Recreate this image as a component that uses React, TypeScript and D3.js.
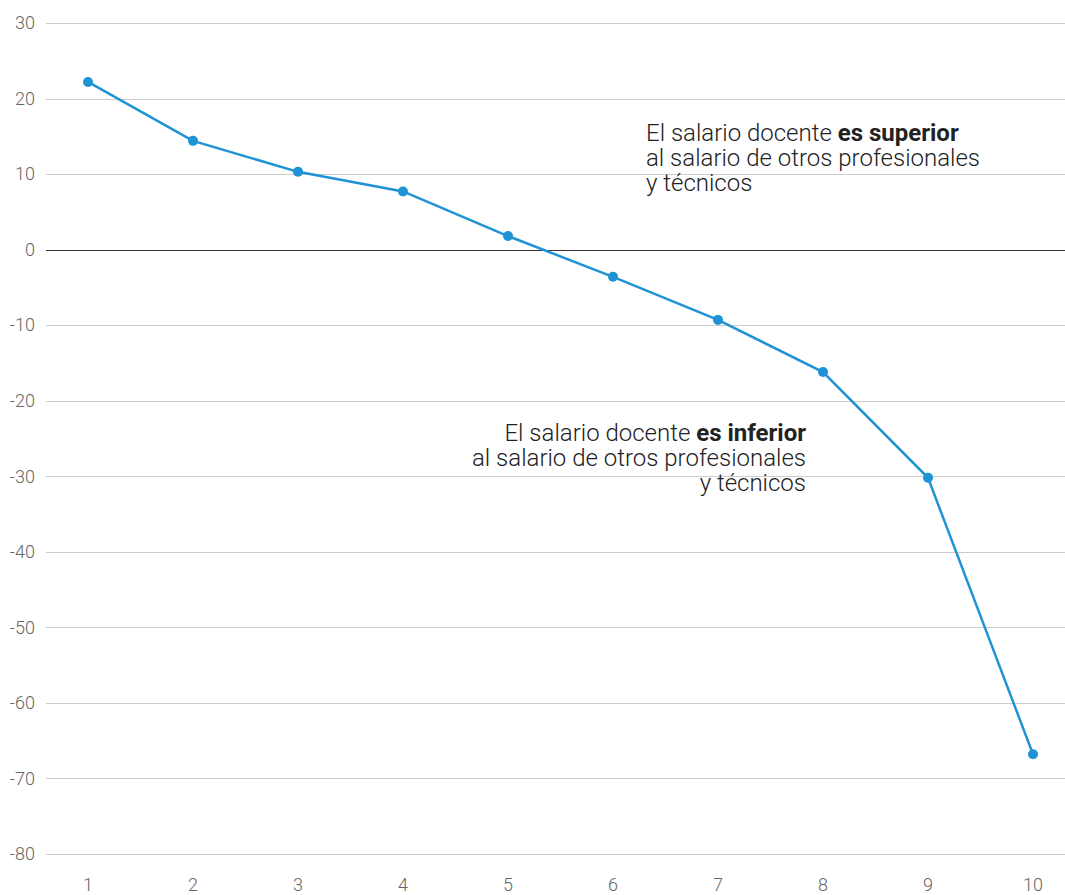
import * as d3 from 'd3';
import { useEffect, useRef } from 'react';

const categories = [1, 2, 3, 4, 5, 6, 7, 8, 9, 10];
const values = [22.2, 14.4, 10.3, 7.7, 1.8, -3.6, -9.3, -16.2, -30.2, -66.8];
const yTicks = [30, 20, 10, 0, -10, -20, -30, -40, -50, -60, -70, -80];

const noteAbove = ['El salario docente ', 'es superior', 'al salario de otros profesionales', 'y técnicos'];
const noteBelow = ['El salario docente ', 'es inferior', 'al salario de otros profesionales', 'y técnicos'];

export default function App() {
    const ref = useRef<SVGSVGElement | null>(null);

    useEffect(() => {
        const svg = d3.select(ref.current);
        svg.selectAll('*').remove();

        const width = 1065;
        const height = 895;
        const font = 'Roboto, sans-serif';

        const x = d3.scaleLinear().domain([1, 10]).range([88, 1033]);
        const y = d3.scaleLinear().domain([-80, 30]).range([854, 23]);

        svg.attr('width', width).attr('height', height);

        // grid
        svg.append('g')
            .selectAll('line')
            .data(yTicks)
            .enter()
            .append('line')
            .attr('x1', 46)
            .attr('x2', width)
            .attr('y1', d => Math.round(y(d)) + 0.5)
            .attr('y2', d => Math.round(y(d)) + 0.5)
            .attr('stroke', d => (d === 0 ? '#333' : '#ccc'))
            .attr('stroke-width', 1);

        svg.append('g')
            .selectAll('text')
            .data(yTicks)
            .enter()
            .append('text')
            .attr('x', 35)
            .attr('y', d => y(d))
            .attr('dy', '0.35em')
            .attr('text-anchor', 'end')
            .attr('font-family', font)
            .attr('font-weight', 300)
            .attr('font-size', 18)
            .attr('fill', '#666')
            .text(d => d);

        svg.append('g')
            .selectAll('text')
            .data(categories)
            .enter()
            .append('text')
            .attr('x', d => x(d))
            .attr('y', 891)
            .attr('text-anchor', 'middle')
            .attr('font-family', font)
            .attr('font-weight', 300)
            .attr('font-size', 18)
            .attr('fill', '#666')
            .text(d => d);

        const line = d3.line<number>()
            .x((_, i) => x(categories[i]))
            .y(d => y(d));

        svg.append('path')
            .datum(values)
            .attr('d', line)
            .attr('fill', 'none')
            .attr('stroke', '#1f93d6')
            .attr('stroke-width', 2.5);

        svg.append('g')
            .selectAll('circle')
            .data(values)
            .enter()
            .append('circle')
            .attr('cx', (_, i) => x(categories[i]))
            .attr('cy', d => y(d))
            .attr('r', 5)
            .attr('fill', '#1f93d6');

        const note = (lines: string[], tx: number, ty: number, anchor: string) => {
            const t = svg.append('text')
                .attr('font-family', font)
                .attr('font-weight', 300)
                .attr('font-size', 24)
                .attr('fill', '#222')
                .attr('text-anchor', anchor);
            const first = t.append('tspan').attr('x', tx).attr('y', ty);
            first.append('tspan').text(lines[0]);
            first.append('tspan').attr('font-weight', 700).text(lines[1]);
            t.append('tspan').attr('x', tx).attr('y', ty + 25).text(lines[2]);
            t.append('tspan').attr('x', tx).attr('y', ty + 50).text(lines[3]);
        };

        note(noteAbove, 646, 141, 'start');
        note(noteBelow, 806, 441, 'end');
    }, []);

    return <svg ref={ref} style={{ position: 'absolute', left: 0, top: 0 }}></svg>;
}
